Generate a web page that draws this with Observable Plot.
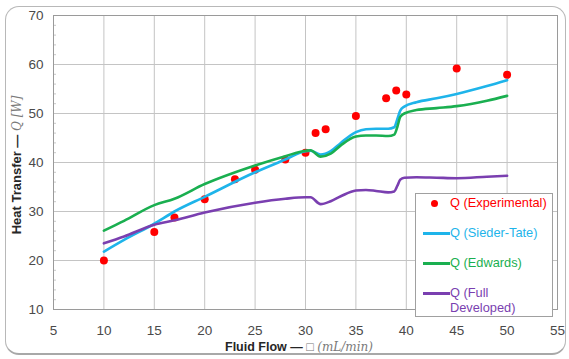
<!DOCTYPE html>
<html>
<head>
<meta charset="utf-8">
<script src="https://cdn.jsdelivr.net/npm/d3@7"></script>
<script src="https://cdn.jsdelivr.net/npm/@observablehq/plot@0.6"></script>
<style>
  body { margin:0; background:#fff; font-family: Arial, "Liberation Sans", sans-serif; }
  #wrap { position:relative; width:569px; height:359px; overflow:hidden; }
  #border { position:absolute; left:5px; top:6px; width:559px; height:346px; border:1px solid #b8b8b8; border-bottom:2px solid #a8a8a8; border-radius:14px; pointer-events:none; }
  #chart { position:absolute; left:0; top:0; }
  .xtitle { position:absolute; top:340px; left:299px; transform:translateX(-50%); white-space:nowrap; font-size:12.5px; color:#262626; }
  .ytitle { position:absolute; left:16px; top:165px; transform:translate(-50%,-50%) rotate(-90deg); white-space:nowrap; font-size:13px; color:#262626; }
  .b { font-weight:bold; }
  .it { font-style:italic; font-family:"DejaVu Serif", "Liberation Serif", serif; color:#7a7a7a; font-size:12px; }
  #legend { position:absolute; left:415px; top:193px; width:136px; height:122px; border:1px solid #a0a0a0; background:#fff; font-size:12.8px; }
  .row { position:absolute; left:0; white-space:nowrap; }
  .sw { position:absolute; left:7px; width:27px; height:2.5px; }
  .lbl { position:absolute; left:34px; line-height:15px; }
</style>
</head>
<body>
<div id="wrap">
  <div id="chart"></div>
  <div class="xtitle"><span class="b">Fluid Flow — </span><span style="color:#777">□</span> <span class="it">(mL/min)</span></div>
  <div class="ytitle"><span class="b">Heat Transfer — </span><span class="it">Q [W]</span></div>
  <div id="legend"></div>
  <div id="border"></div>
</div>
<script>
// Experimental data
const flowExp = [10, 15, 17, 20, 23, 25, 28, 30, 31, 32, 35, 38, 39, 40, 45, 50];
const qExp    = [20, 25.8, 28.8, 32.5, 36.6, 38.5, 40.6, 42.0, 46.0, 46.8, 49.5, 53.1, 54.7, 53.9, 59.2, 57.9];

// Correlation curves (sampled flow values)
const flowCurve = [10, 12, 15, 17, 20, 25, 28, 30, 30.5, 31.5, 32.5, 33.5, 35, 36, 37, 38.2, 38.8, 39.1, 39.4, 39.8, 41, 43, 45, 48, 50];
const qSiederTate = [21.8, 24.2, 27.5, 30.0, 33.0, 38.0, 40.6, 42.3, 42.4, 41.6, 42.3, 44.0, 46.2, 46.8, 46.9, 46.9, 47.2, 48.8, 50.6, 51.4, 52.3, 53.1, 54.0, 55.6, 56.8];
const qEdwards    = [26.1, 28.1, 31.3, 32.6, 35.6, 39.4, 41.3, 42.4, 42.5, 41.2, 41.8, 43.5, 45.3, 45.5, 45.5, 45.4, 45.7, 47.2, 49.3, 50.0, 50.7, 51.1, 51.5, 52.6, 53.6];
const qFullDev    = [23.5, 24.9, 27.3, 28.2, 29.8, 31.8, 32.6, 32.9, 32.9, 31.5, 32.1, 33.1, 34.3, 34.4, 34.2, 33.9, 34.1, 35.2, 36.5, 36.9, 37.0, 36.9, 36.8, 37.1, 37.3];

const xTicks = [5, 10, 15, 20, 25, 30, 35, 40, 45, 50, 55];
const yTicks = [10, 20, 30, 40, 50, 60, 70];
const yMinor = d3.range(10, 70.01, 2).filter(v => v % 10 !== 0);

const seriesNames = ["Q (Experimental)", "Q (Sieder-Tate)", "Q (Edwards)", "Q (Full Developed)"];
const seriesColors = ["#ff0000", "#1eb4ea", "#1aaf50", "#7a3fb0"];

const expData = flowExp.map((x, i) => ({x, y: qExp[i]}));
const mk = ys => flowCurve.map((x, i) => ({x, y: ys[i]}));

const chart = Plot.plot({
  width: 569, height: 359,
  marginLeft: 53, marginRight: 12, marginTop: 15, marginBottom: 50,
  style: {fontFamily: "Arial, 'Liberation Sans', sans-serif", fontSize: "13.5px", color: "#4a4a4a", background: "transparent"},
  x: {domain: [5, 55], label: null},
  y: {domain: [10, 70], label: null},
  marks: [
    Plot.gridX(xTicks, {stroke: "#c4c4c4", strokeOpacity: 1}),
    Plot.gridY(yTicks, {stroke: "#c4c4c4", strokeOpacity: 1}),
    Plot.axisY(yMinor, {tickSize: -3, tickFormat: () => "", stroke: "#c8c8c8"}),
    Plot.frame({stroke: "#9a9a9a"}),
    Plot.axisX(xTicks, {tickSize: 0, tickPadding: 16, label: null, fontSize: 13.5}),
    Plot.axisY(yTicks, {tickSize: 0, tickPadding: 10, label: null, fontSize: 13.5}),
    Plot.dot(expData, {x: "x", y: "y", r: 4, fill: seriesColors[0], stroke: "none"}),
    Plot.line(mk(qSiederTate), {x: "x", y: "y", stroke: seriesColors[1], strokeWidth: 2.6, curve: "monotone-x"}),
    Plot.line(mk(qEdwards), {x: "x", y: "y", stroke: seriesColors[2], strokeWidth: 2.6, curve: "monotone-x"}),
    Plot.line(mk(qFullDev), {x: "x", y: "y", stroke: seriesColors[3], strokeWidth: 2.6, curve: "monotone-x"})
  ]
});
document.getElementById("chart").appendChild(chart);

// Legend
const legend = document.getElementById("legend");
const rowsTop = [1, 31, 61, 91];
seriesNames.forEach((name, i) => {
  const row = document.createElement("div");
  row.className = "row";
  row.style.top = rowsTop[i] + "px";
  if (i === 0) {
    const dot = document.createElement("div");
    dot.style.cssText = `position:absolute;left:15px;top:5px;width:7px;height:7px;border-radius:50%;background:${seriesColors[0]}`;
    row.appendChild(dot);
  } else {
    const sw = document.createElement("div");
    sw.className = "sw";
    sw.style.top = "7px";
    sw.style.background = seriesColors[i];
    row.appendChild(sw);
  }
  const lbl = document.createElement("div");
  lbl.className = "lbl";
  lbl.style.color = seriesColors[i];
  if (i === 3) {
    lbl.innerHTML = "Q (Full<br>Developed)";
  } else {
    lbl.textContent = name;
  }
  row.appendChild(lbl);
  legend.appendChild(row);
});
</script>
</body>
</html>
